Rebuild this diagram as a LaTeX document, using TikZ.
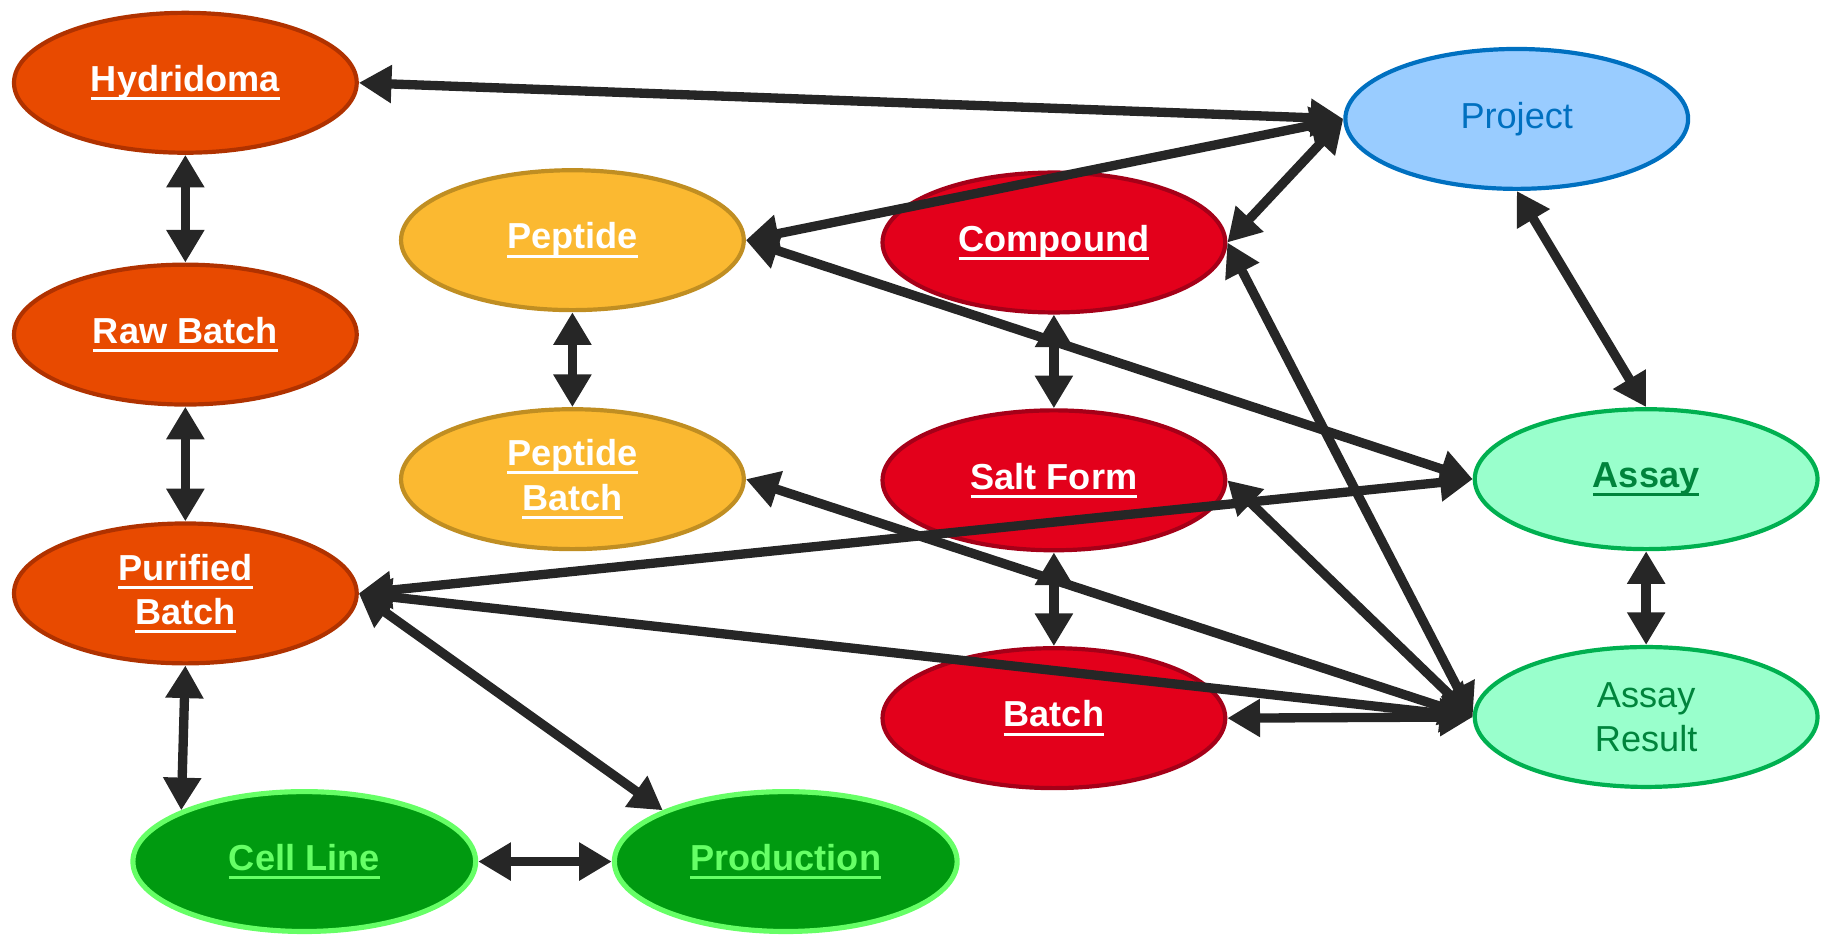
\documentclass[tikz,border=0pt]{standalone}
\usepackage{fontspec}
\setmainfont{Liberation Sans}
\usetikzlibrary{arrows.meta,shapes.geometric}
\definecolor{orgF}{HTML}{E84A00}
\definecolor{orgD}{HTML}{B03200}
\definecolor{yelF}{HTML}{FBB931}
\definecolor{yelD}{HTML}{C08E22}
\definecolor{redF}{HTML}{E3001B}
\definecolor{redD}{HTML}{A50018}
\definecolor{bluF}{HTML}{99CCFF}
\definecolor{bluD}{HTML}{0070C0}
\definecolor{mntF}{HTML}{99FFCC}
\definecolor{mntD}{HTML}{00B050}
\definecolor{mntT}{HTML}{00843C}
\definecolor{grnF}{HTML}{009A10}
\definecolor{grnD}{HTML}{66FF66}
\definecolor{arrC}{HTML}{262626}
\newcommand\myul[1]{\leavevmode\setbox0=\hbox{#1}\rlap{\copy0}\vrule width\wd0 height -2.4pt depth 3.7pt\relax}
\tikzset{
  ent/.style={ellipse, draw, line width=1.8pt, minimum width=147pt, minimum height=60pt,
    inner sep=0pt, align=center, font=\fontsize{15.5}{19}\selectfont},
  orgbox/.style={ent, fill=orgF, draw=orgD, text=white, font=\fontsize{15.5}{19}\selectfont\bfseries},
  yelbox/.style={ent, fill=yelF, draw=yelD, text=white, font=\fontsize{15.5}{19}\selectfont\bfseries},
  redbox/.style={ent, fill=redF, draw=redD, text=white, font=\fontsize{15.5}{19}\selectfont\bfseries},
  blubox/.style={ent, fill=bluF, draw=bluD, text=bluD},
  mntbox/.style={ent, fill=mntF, draw=mntD, text=mntT},
  grnbox/.style={ent, fill=grnF, draw=grnD, line width=2.2pt, text=grnD, font=\fontsize{15.5}{19}\selectfont\bfseries},
  link/.style={draw=arrC, line width=4pt,
    {Triangle[length=14pt,width=15.5pt]}-{Triangle[length=14pt,width=15.5pt]}}
}
\begin{document}
\begin{tikzpicture}[x=0.5pt,y=-0.5pt]
\useasboundingbox (0,0) rectangle (1568,804);
\node[orgbox] (hyd) at (159,71) {\myul{Hydridoma}};
\node[orgbox] (raw) at (159,287) {\myul{Raw Batch}};
\node[orgbox] (pur) at (159,509) {\myul{Purified}\\\myul{Batch}};
\node[grnbox] (cell) at (261,739) {\myul{Cell Line}};
\node[grnbox] (prod) at (674,739) {\myul{Production}};
\node[yelbox] (pep) at (491,206) {\myul{Peptide}};
\node[yelbox] (pepb) at (491,411) {\myul{Peptide}\\\myul{Batch}};
\node[redbox] (comp) at (904,208) {\myul{Compound}};
\node[redbox] (salt) at (904,412) {\myul{Salt Form}};
\node[redbox] (bat) at (904,616) {\myul{Batch}};
\node[blubox] (proj) at (1301,102) {Project};
\node[mntbox, font=\fontsize{15.5}{19}\selectfont\bfseries] (assay) at (1412,411) {\myul{Assay}};
\node[mntbox] (ares) at (1412,615) {Assay\\Result};

\draw[link] (hyd.east) -- (proj.west);
\draw[link] (pep.east) -- (proj.west);
\draw[link] (comp.east) -- (proj.west);
\draw[link] (proj.south) -- (assay.north);
\draw[link] (hyd.south) -- (raw.north);
\draw[link] (raw.south) -- (pur.north);
\draw[link] (pur.south) -- (cell.north west);
\draw[link] (cell.east) -- (prod.west);
\draw[link] (pur.east) -- (prod.north west);
\draw[link] (pur.east) -- (assay.west);
\draw[link] (pur.east) -- (ares.west);
\draw[link] (pep.east) -- (assay.west);
\draw[link] (pep.south) -- (pepb.north);
\draw[link] (pepb.east) -- (ares.west);
\draw[link] (comp.south) -- (salt.north);
\draw[link] (salt.south) -- (bat.north);
\draw[link] (comp.east) -- (ares.west);
\draw[link] (salt.east) -- (ares.west);
\draw[link] (bat.east) -- (ares.west);
\draw[link] (assay.south) -- (ares.north);
\end{tikzpicture}
\end{document}
